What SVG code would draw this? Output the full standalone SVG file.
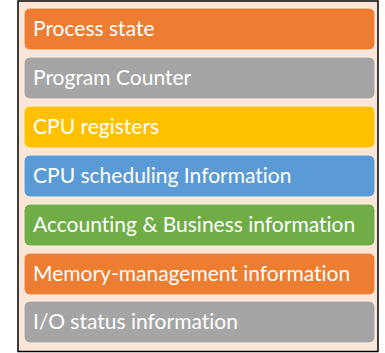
<svg xmlns="http://www.w3.org/2000/svg" width="385" height="353" viewBox="0 0 385 353">
<style>
.b{stroke:#fdf1e8;stroke-width:1}
.t{font-family:Lato,"Open Sans",sans-serif;font-size:21px;fill:#ffffff;font-variant-ligatures:none}
</style>
<rect width="385" height="353" fill="#ffffff"/>
<rect x="18" y="1" width="360" height="350.5" fill="#fbe5d6" stroke="#000" stroke-width="1.5"/>
<g id="n1"><rect class="b" x="24" y="8" width="351" height="42" rx="6" fill="#ed7d31"/><text class="t" x="33" y="36">Process state</text></g>
<g id="n2"><rect class="b" x="24" y="57" width="351" height="42" rx="6" fill="#a5a5a5"/><text class="t" x="33" y="85">Program Counter</text></g>
<g id="n3"><rect class="b" x="24" y="106" width="351" height="42" rx="6" fill="#ffc000"/><text class="t" x="33" y="134">CPU registers</text></g>
<g id="n4"><rect class="b" x="24" y="155" width="351" height="42" rx="6" fill="#5b9bd5"/><text class="t" x="33" y="183">CPU scheduling Information</text></g>
<g id="n5"><rect class="b" x="24" y="204" width="351" height="42" rx="6" fill="#70ad47"/><text class="t" x="33" y="232">Accounting &amp; Business information</text></g>
<g id="n6"><rect class="b" x="24" y="253" width="351" height="42" rx="6" fill="#ed7d31"/><text class="t" x="33" y="281">Memory-management information</text></g>
<g id="n7"><rect class="b" x="24" y="301" width="351" height="42" rx="6" fill="#a5a5a5"/><text class="t" x="33" y="329">I/O status information</text></g>
<g id="connectors"/>
</svg>
